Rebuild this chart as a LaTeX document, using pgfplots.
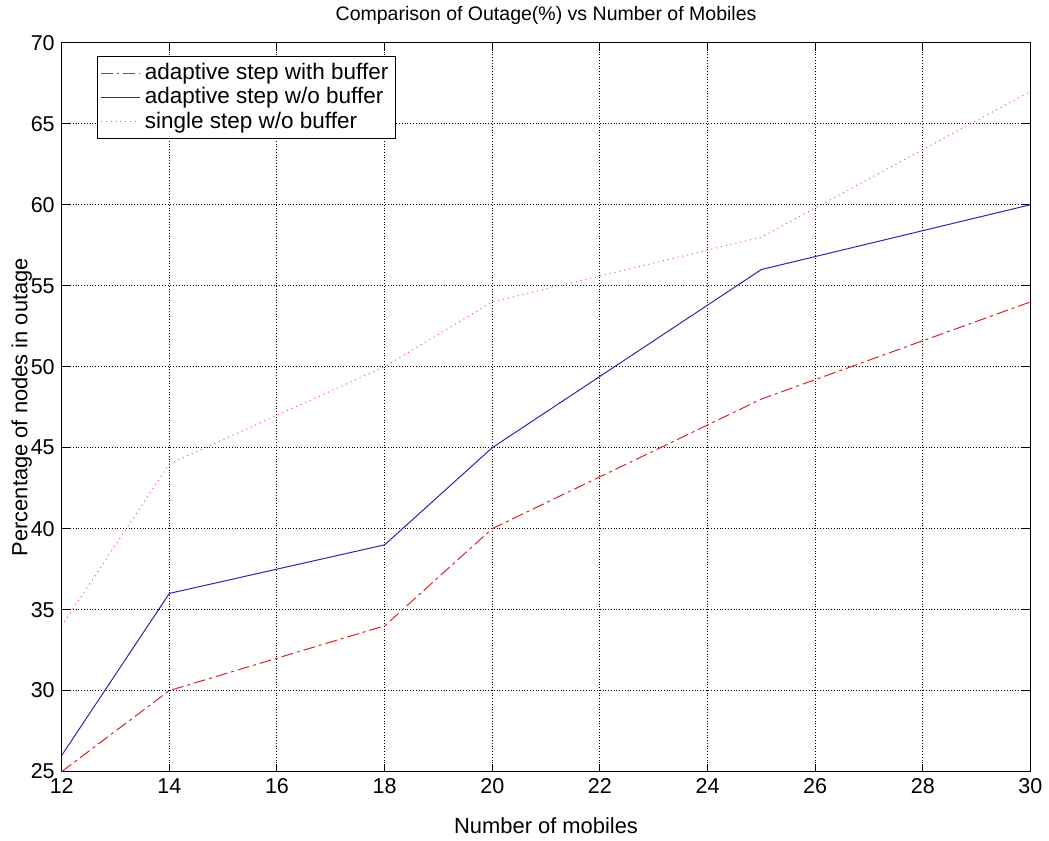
\documentclass[border=0pt]{standalone}
\usepackage{fontspec}
\setmainfont{Liberation Sans}
\usepackage{pgfplots}
\pgfplotsset{compat=1.18}
\definecolor{mred}{RGB}{215,35,35}
\definecolor{mblue}{RGB}{40,40,170}
\definecolor{mmag}{RGB}{255,60,200}
\begin{document}
\begin{tikzpicture}
\begin{axis}[
  scale only axis,
  width=486.5pt, height=366pt,
  xmin=12, xmax=30, ymin=25, ymax=70,
  xtick={12,14,...,30}, ytick={25,30,...,70},
  tick align=inside, major tick length=4pt,
  xtick pos=both, ytick pos=both,
  grid=major,
  major grid style={black, densely dotted, line width=0.5pt},
  axis line style={black, line width=0.5pt},
  tick style={black, line width=0.5pt},
  font=\fontsize{11pt}{13pt}\selectfont,
  ticklabel style={font=\fontsize{10.8pt}{12pt}\selectfont},
  /pgf/number format/assume math mode=true,
  title={Comparison of Outage(\%) vs Number of Mobiles},
  title style={yshift=-0.5pt, font=\fontsize{9.8pt}{11pt}\selectfont},
  xlabel={Number of mobiles},
  ylabel={Percentage of nodes in outage},
  xlabel style={yshift=-5pt},
  ylabel style={yshift=-7.5pt},
  legend style={at={(0.036,0.982)}, anchor=north west, draw=black,
    line width=0.5pt, font=\fontsize{11.3pt}{12pt}\selectfont,
    inner sep=1.5pt, row sep=-1.5pt, cells={anchor=west}},
  legend cell align=left,
  legend image code/.code={\draw[mark repeat=2,mark phase=2,#1] plot coordinates {(0pt,0pt) (10pt,0pt) (20pt,0pt)};},
]
\addplot[color=mred, dash pattern=on 6pt off 2pt on 1.5pt off 2pt, line width=0.5pt] coordinates {
(12,25) (14,30) (18,34) (20,40) (25,48) (30,54)};
\addlegendentry{adaptive step with buffer}
\addplot[color=mblue, solid, line width=0.5pt] coordinates {
(12,26) (14,36) (18,39) (20,45) (25,56) (30,60)};
\addlegendentry{adaptive step w/o buffer}
\addplot[color=mmag, dotted, line width=0.5pt] coordinates {
(12,34) (14,44) (18,50) (20,54) (25,58) (30,67)};
\addlegendentry{single step w/o buffer}
\end{axis}
\path (-31pt,-30pt) rectangle (493.5pt,387pt);
\end{tikzpicture}
\end{document}
